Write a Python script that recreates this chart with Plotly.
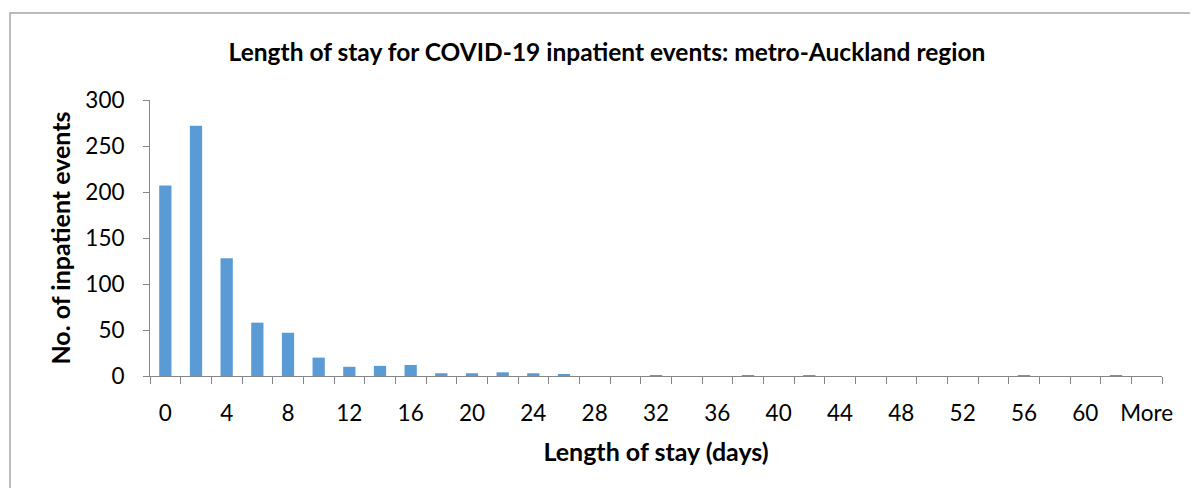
import plotly.graph_objects as go

categories = [str(d) for d in range(0, 64, 2)] + ["More"]
counts = [207, 272, 128, 58, 47, 20, 10, 11, 12, 3, 3, 4, 3, 2, 0, 0,
          1, 0, 0, 1, 0, 1, 0, 0, 0, 0, 0, 0, 1, 0, 0, 1, 0]
tick_labels = [c if i % 2 == 0 else "" for i, c in enumerate(categories)]
y_ticks = [0, 50, 100, 150, 200, 250, 300]

FONT = "Lato"
OFF = 8  # default page body margin
W, H = 1198 - OFF, 488 - OFF
L, R, T, B = 150 - OFF, 36, 100 - OFF, 112
pw, ph = W - L - R, H - T - B

fig = go.Figure(go.Bar(
    x=categories, y=counts,
    marker=dict(color="#5b9bd5", line=dict(width=0)),
))

fig.update_layout(
    width=W, height=H,
    margin=dict(l=L, r=R, t=T, b=B, autoexpand=False),
    paper_bgcolor="white", plot_bgcolor="white",
    bargap=0.6,
    showlegend=False,
    title=dict(text="<b>Length of stay for COVID-19 inpatient events: metro-Auckland region</b>",
               x=(607 - OFF) / W, xanchor="center", y=1 - (52 - OFF) / H, yanchor="middle",
               font=dict(family=FONT, size=24.5, color="black")),
    font=dict(family=FONT, color="black"),
)

fig.update_xaxes(
    type="category",
    tickvals=categories, ticktext=tick_labels,
    tickson="boundaries", tickangle=0, automargin=False,
    ticks="outside", ticklen=7, tickcolor="#868686", tickwidth=1,
    showline=True, linecolor="#868686", linewidth=1,
    showgrid=False, zeroline=False,
    tickfont=dict(family=FONT, size=22.5, color="black"),
    ticklabelstandoff=17,
    title=dict(text="<b>Length of stay (days)</b>", standoff=18,
               font=dict(family=FONT, size=25, color="black")),
)

fig.update_yaxes(
    range=[0, 300], tickvals=y_ticks, automargin=False,
    ticks="outside", ticklen=6, tickcolor="#868686", tickwidth=1,
    showline=True, linecolor="#868686", linewidth=1,
    showgrid=False, zeroline=False,
    tickfont=dict(family=FONT, size=22.5, color="black"),
    ticklabelstandoff=14,
    title=dict(text="<b>No. of inpatient events</b>", standoff=7,
               font=dict(family=FONT, size=25, color="black")),
)

# outer chart border (top and left visible, right/bottom run off the image)
fig.add_shape(type="rect", xref="paper", yref="paper",
              x0=(10 - OFF - L) / pw, x1=(W + 5 - L) / pw,
              y0=-(H + 5 - T - ph) / ph, y1=(H - B - (13 - OFF)) / ph,
              line=dict(color="#a6a6a6", width=1.5), fillcolor="rgba(0,0,0,0)", layer="below")

fig.write_html("out.html")
